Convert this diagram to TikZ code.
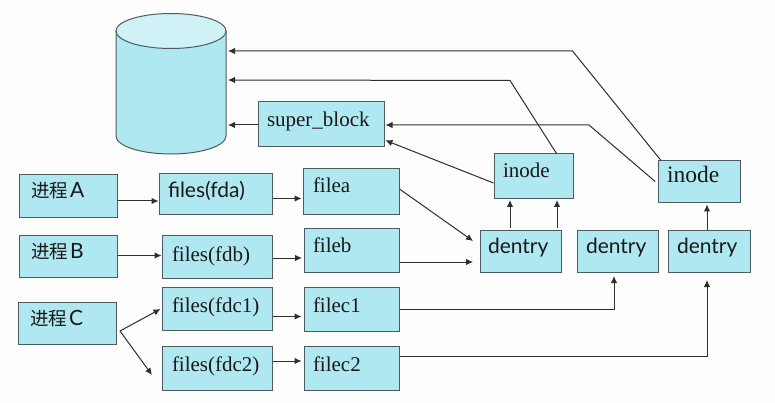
\documentclass[tikz,border=0pt]{standalone}
\usepackage{fontspec}
\setmainfont{Liberation Serif}
\setsansfont{Lato}
\newfontfamily\cjk{Noto Sans CJK SC}
\usetikzlibrary{arrows.meta}
\definecolor{boxfill}{HTML}{B0E8F1}
\definecolor{boxline}{HTML}{4C5B60}
\definecolor{toplight}{HTML}{D0F1F6}
\definecolor{wire}{HTML}{2E2E2E}
\definecolor{paper}{HTML}{FDFDFD}
\tikzset{
  box/.style={draw=boxline,fill=boxfill,line width=1pt,inner sep=0pt,text=black!90,font=\fontsize{21}{21}\selectfont},
  sans/.style={font=\sffamily\fontsize{21}{21}\selectfont},
  bigserif/.style={font=\fontsize{23.5}{23.5}\selectfont},
  link/.style={draw=wire,line width=1pt,-{Latex[length=7pt,width=6.5pt]}},
}
\newcommand{\zh}[1]{{\cjk\fontsize{18.5}{18.5}\selectfont #1\hspace{2pt}}}
\newcommand{\bx}[9][]{%
  \pgfmathsetmacro{\cxv}{(#3+#5)/2}%
  \pgfmathsetmacro{\cyv}{(#4+#6)/2}%
  \pgfmathsetmacro{\wv}{#5-#3}%
  \pgfmathsetmacro{\hv}{#6-#4}%
  \pgfmathsetmacro{\dxv}{#7-\cxv}%
  \pgfmathsetmacro{\dyv}{\cyv-#8}%
  \node[box,#1,minimum width=\wv pt,minimum height=\hv pt] (#2) at (\cxv pt,-\cyv pt)
    {\smash{\makebox[0pt][l]{\hspace*{\dxv pt}\raisebox{\dyv pt}{#9}}}};%
}
\begin{document}
\begin{tikzpicture}[x=1pt,y=1pt]
\useasboundingbox[fill=paper] (0,0) rectangle (775,-403);
% cylinder
\path[draw=boxline,fill=boxfill,line width=1pt] (116,-31) -- (116,-136)
  arc[start angle=180,end angle=360,x radius=55,y radius=18] -- (226,-31) -- cycle;
\path[draw=boxline,fill=toplight,line width=1pt] (171,-31) ellipse[x radius=55,y radius=17.5];
\coordinate (disktop) at (228,-51);
\coordinate (diskmid) at (228,-80);
\coordinate (disklow) at (228,-125);
% boxes
\bx{sb}{258}{102}{384}{147}{267}{127}{super\_block}
\bx[sans]{pa}{19.5}{175}{117}{217}{31}{198}{\zh{进程}A}
\bx[sans]{fa}{159}{174}{272}{214}{168}{197}{files(fda)}
\bx{ffa}{303.5}{169}{399}{214}{313}{193}{filea}
\bx[sans]{pb}{19.5}{235}{117}{277}{31}{258}{\zh{进程}B}
\bx{fb}{162}{235}{272}{278}{172}{261}{files(fdb)}
\bx{ffb}{304}{228}{399}{272}{313}{252}{fileb}
\bx[sans]{pc}{18.5}{302}{116.5}{344}{30}{325}{\zh{进程}C}
\bx{fc1}{162}{287}{272}{330}{172}{312}{files(fdc1)}
\bx{ffc1}{304}{287}{399}{331}{313}{312}{filec1}
\bx{fc2}{162}{346}{272}{390}{172}{371}{files(fdc2)}
\bx{ffc2}{304}{346}{399}{390}{313}{371}{filec2}
\bx{ia}{494}{154}{573}{198.5}{503}{178}{inode}
\bx[bigserif]{ib}{658}{161}{740}{203}{667}{183}{inode}
\bx[sans]{da}{480}{230.5}{561}{272}{488}{253}{dentry}
\bx[sans]{db}{577}{230.5}{658}{272}{586}{253}{dentry}
\bx[sans]{dc}{668}{230.5}{750}{272}{677}{253}{dentry}
% free ends
\coordinate (forkc) at (120,-331);
\coordinate (tipfc1) at (160.5,-309);
\coordinate (tipfc2) at (152,-375);
\coordinate (tipdaA) at (473,-241);
\coordinate (tipdaB) at (473,-262);
\coordinate (tipdb) at (614,-276);
\coordinate (tipdc) at (707,-280);
% process to files
\draw[link] (pa.east |- 0,-201) -- (fa.west |- 0,-201);
\draw[link] (pb.east |- 0,-255.5) -- (fb.west |- 0,-255.5);
\draw[link] (forkc) -- (tipfc1);
\draw[link] (forkc) -- (tipfc2);
% files to file
\draw[link,shorten >=1.5pt] (fa.east |- 0,-198.5) -- (ffa.west |- 0,-198.5);
\draw[link,shorten >=1.5pt] (fb.east |- 0,-258) -- (ffb.west |- 0,-258);
\draw[link,shorten >=2pt] (fc1.east |- 0,-316.5) -- (ffc1.west |- 0,-316.5);
\draw[link,shorten >=2pt] (fc2.east |- 0,-361) -- (ffc2.west |- 0,-361);
% file to dentry
\draw[link] (ffa.east |- 0,-189) -- (tipdaA);
\draw[link] (ffb.east |- 0,-262) -- (tipdaB);
\draw[link] (ffc1.east |- 0,-309) -- (614,-309) -- (tipdb);
\draw[link] (ffc2.east |- 0,-356) -- (707,-356) -- (tipdc);
% dentry to inode
\draw[link,shorten <=2pt,shorten >=1pt] (510,0 |- da.north) -- (510,0 |- ia.south);
\draw[link,shorten <=2pt,shorten >=1pt] (557,0 |- da.north) -- (557,0 |- ia.south);
\draw[link,shorten >=1pt] (707,0 |- dc.north) -- (707,0 |- ib.south);
% inode to disk
\draw[link] (556.5,0 |- ia.north) -- (510,-80.5) -- (diskmid);
\draw[link] (661,0 |- ib.north) -- (572.5,-51) -- (disktop);
% inode to super_block
\draw[link,shorten >=1pt] (ia.west |- 0,-183) -- (sb.east |- 0,-140);
\draw[link,shorten >=1pt,shorten <=3pt] (ib.west |- 0,-183.5) -- (589,-125) -- (sb.east |- 0,-125);
% super_block to disk
\draw[link] (sb.west |- 0,-125) -- (disklow);
\end{tikzpicture}
\end{document}
